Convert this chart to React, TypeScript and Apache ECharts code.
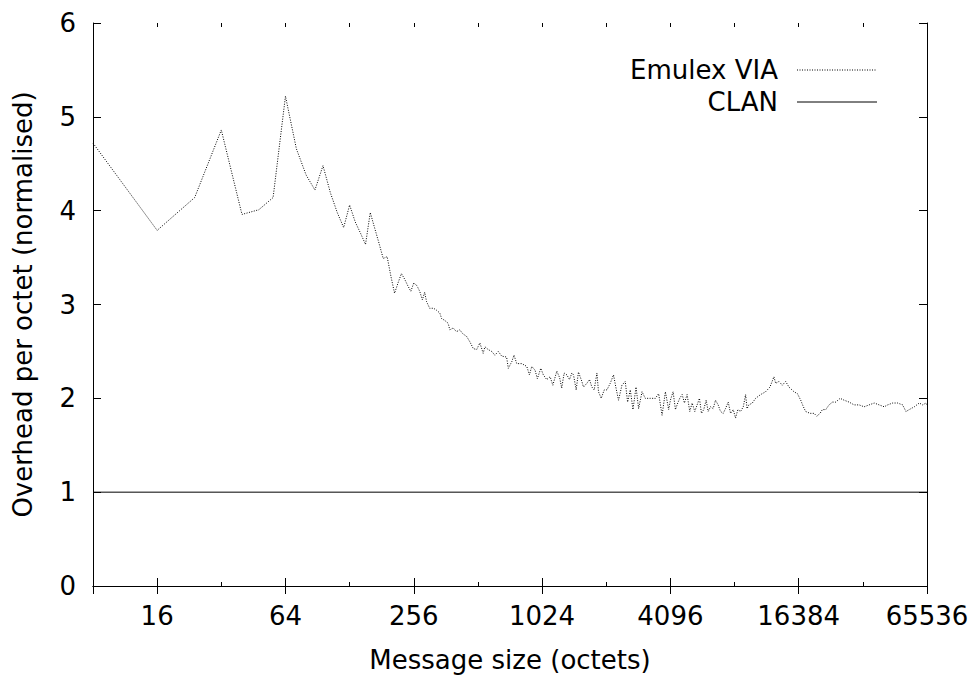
import React, { useEffect, useRef } from "react";
import * as echarts from "echarts";

// Message sizes (octets) and Emulex VIA overhead per octet, normalised to CLAN
const sizes = [
  8, 16, 24, 32, 40, 48, 56, 64, 72, 80, 88, 96, 104, 112, 120, 128, 136, 144, 152, 160,
  168, 176, 184, 192, 200, 208, 216, 224, 232, 240, 248, 256, 265, 273, 281, 288, 294, 304,
  317, 327, 339, 346, 358, 371, 378, 392, 406, 421, 434, 453, 470, 487, 505, 523, 542, 552,
  572, 594, 615, 638, 662, 698, 711, 738, 756, 779, 822, 868, 893, 916, 949, 973, 1010, 1038,
  1077, 1117, 1150, 1201, 1238, 1266, 1300, 1338, 1377, 1413, 1438, 1480, 1517, 1574, 1601,
  1661, 1709, 1754, 1798, 1852, 1884, 1940, 2004, 2064, 2138, 2216, 2276, 2339, 2427, 2515,
  2580, 2656, 2734, 2826, 2906, 3015, 3123, 3298, 3482, 3608, 3744, 3881, 4020, 4096, 4218,
  4326, 4435, 4531, 4652, 4768, 4907, 5050, 5181, 5330, 5468, 5607, 5730, 5873, 6029, 6161,
  6317, 6503, 6668, 6864, 7039, 7247, 7429, 7652, 7847, 8078, 8282, 8490, 8742, 9005, 9232,
  9380, 9567, 9926, 10287, 10855, 11457, 12010, 12537, 12775, 13233, 13730, 14231, 14749,
  15575, 16155, 16744, 17236, 17662, 18530, 19350, 19907, 20644, 21168, 21955, 22741, 23609,
  24461, 25625, 26771, 28246, 29819, 31474, 33227, 35062, 37061, 39092, 41288, 42828, 45220,
  47710, 50364, 52199, 54100, 57147, 60293, 62554, 64815, 65536,
];

const emulexOverhead = [
  4.72, 3.79, 4.14, 4.86, 3.96, 4.01, 4.14, 5.22, 4.66, 4.38, 4.22, 4.48, 4.19, 3.98, 3.82, 4.06, 3.88, 3.76, 3.64, 3.98,
  3.81, 3.65, 3.49, 3.51, 3.30, 3.12, 3.23, 3.33, 3.27, 3.20, 3.14, 3.23, 3.20, 3.14, 3.05, 3.13, 3.03, 2.96,
  2.96, 2.94, 2.91, 2.85, 2.83, 2.80, 2.73, 2.75, 2.71, 2.73, 2.69, 2.66, 2.60, 2.53, 2.52, 2.59, 2.48, 2.55,
  2.52, 2.50, 2.46, 2.50, 2.45, 2.44, 2.32, 2.39, 2.46, 2.37, 2.37, 2.34, 2.25, 2.34, 2.30, 2.21, 2.32, 2.25,
  2.20, 2.23, 2.14, 2.29, 2.22, 2.11, 2.27, 2.25, 2.20, 2.27, 2.25, 2.09, 2.28, 2.18, 2.12,
  2.16, 2.20, 2.12, 2.09, 2.27, 2.07, 2.00, 2.09, 2.09, 2.16, 2.25, 2.11, 1.98, 2.14, 2.18,
  1.96, 2.09, 1.88, 2.12, 1.89, 2.07, 2.00, 2.00, 2.00, 2.05, 1.82, 2.07, 1.88, 1.98, 2.07,
  1.88, 1.95, 2.00, 2.04, 1.95, 2.04, 1.86, 1.95, 1.86, 1.93, 2.00, 1.84, 1.88, 1.98, 1.86,
  1.91, 1.89, 1.98, 1.93, 1.86, 1.84, 1.89, 1.96, 1.84, 1.88, 1.79, 1.88, 1.86, 1.91, 2.04,
  1.89, 1.93, 1.95, 2.00, 2.04, 2.07, 2.12, 2.23, 2.16, 2.18, 2.14, 2.18, 2.12,
  2.07, 2.05, 1.98, 1.91, 1.86, 1.84, 1.84, 1.81, 1.84, 1.88, 1.88, 1.93, 1.96,
  1.96, 2.00, 1.98, 1.96, 1.93, 1.93, 1.91, 1.93, 1.95, 1.93, 1.91, 1.93, 1.95,
  1.95, 1.93, 1.86, 1.88, 1.91, 1.95, 1.93, 1.95, 1.93,
];

// CLAN is the reference, so its normalised overhead is 1 across the range
const clanSizes = [8, 65536];
const clanOverhead = [1, 1];

// Labelled sizes on the x axis (powers of four)
const xTickSizes = [16, 64, 256, 1024, 4096, 16384, 65536];
const yTicks = [0, 1, 2, 3, 4, 5, 6];

const FONT = "DejaVu Sans, Verdana, sans-serif";
const FS = 26;

export default function App() {
  const ref = useRef<HTMLDivElement>(null);

  useEffect(() => {
    if (!ref.current) return;
    const chart = echarts.init(ref.current, null, { renderer: "svg" });

    const log2 = (v: number) => Math.log2(v);
    const xMin = log2(sizes[0]);
    const xMax = log2(sizes[sizes.length - 1]);
    const labelFor = (v: number) => {
      const s = xTickSizes.find((t) => Math.abs(log2(t) - v) < 1e-6);
      return s === undefined ? "" : String(s);
    };

    const gridPos = { left: 93, right: 49, top: 23, bottom: 96 };
    const black = "#000";

    // Octave-of-four ticks carry the labels; octave ticks are drawn shorter on a twin grid
    const majorX = (position: "bottom" | "top", withLabels: boolean) => ({
      type: "value" as const,
      gridIndex: 0,
      position,
      min: xMin,
      max: xMax,
      splitNumber: 6,
      axisLine: { show: true, lineStyle: { color: black, width: 1 } },
      axisTick: { show: true, inside: true, length: 8, lineStyle: { color: black } },
      axisLabel: {
        show: withLabels,
        formatter: labelFor,
        color: black,
        fontSize: FS,
        fontFamily: FONT,
        margin: 17,
        showMinLabel: true,
        showMaxLabel: true,
      },
      splitLine: { show: false },
      name: withLabels ? "Message size (octets)" : "",
      nameLocation: "middle" as const,
      nameGap: 61,
      nameTextStyle: { color: black, fontSize: FS, fontFamily: FONT },
    });

    const minorX = (position: "bottom" | "top") => ({
      type: "value" as const,
      gridIndex: 1,
      position,
      min: xMin,
      max: xMax,
      interval: 1,
      axisLine: { show: false },
      axisTick: { show: true, inside: true, length: 4, lineStyle: { color: black } },
      axisLabel: { show: false },
      splitLine: { show: false },
    });

    const yAxisOf = (position: "left" | "right", withLabels: boolean, gridIndex: number) => ({
      type: "value" as const,
      gridIndex,
      position,
      min: yTicks[0],
      max: yTicks[yTicks.length - 1],
      interval: 1,
      axisLine: { show: gridIndex === 0, lineStyle: { color: black, width: 1 } },
      axisTick: { show: gridIndex === 0, inside: true, length: 8, lineStyle: { color: black } },
      axisLabel: {
        show: withLabels,
        color: black,
        fontSize: FS,
        fontFamily: FONT,
        margin: 17,
      },
      splitLine: { show: false },
      name: withLabels ? "Overhead per octet (normalised)" : "",
      nameLocation: "middle" as const,
      nameRotate: 90,
      nameGap: 57,
      nameTextStyle: { color: black, fontSize: FS, fontFamily: FONT },
    });

    const legendY = [70, 102];

    chart.setOption({
      animation: false,
      backgroundColor: "#fff",
      textStyle: { fontFamily: FONT },
      grid: [
        { ...gridPos, containLabel: false },
        { ...gridPos, containLabel: false },
      ],
      xAxis: [majorX("bottom", true), majorX("top", false), minorX("bottom"), minorX("top")],
      yAxis: [yAxisOf("left", true, 0), yAxisOf("right", false, 0), yAxisOf("left", false, 1)],
      series: [
        {
          name: "Emulex VIA",
          type: "line",
          xAxisIndex: 0,
          yAxisIndex: 0,
          data: sizes.map((s, i) => [log2(s), emulexOverhead[i]]),
          showSymbol: false,
          symbol: "none",
          lineStyle: { color: black, width: 1, type: [1, 1.5] },
        },
        {
          name: "CLAN",
          type: "line",
          xAxisIndex: 0,
          yAxisIndex: 0,
          data: clanSizes.map((s, i) => [log2(s), clanOverhead[i]]),
          showSymbol: false,
          symbol: "none",
          lineStyle: { color: black, width: 1 },
        },
      ],
      graphic: [
        {
          type: "text",
          x: 778,
          y: legendY[0],
          style: {
            text: "Emulex VIA",
            fill: black,
            fontSize: FS,
            fontFamily: FONT,
            align: "right",
            verticalAlign: "middle",
          },
        },
        {
          type: "line",
          shape: { x1: 797, y1: legendY[0], x2: 877, y2: legendY[0] },
          style: { stroke: black, lineWidth: 1, lineDash: [1, 1.5] },
        },
        {
          type: "text",
          x: 778,
          y: legendY[1],
          style: {
            text: "CLAN",
            fill: black,
            fontSize: FS,
            fontFamily: FONT,
            align: "right",
            verticalAlign: "middle",
          },
        },
        {
          type: "line",
          shape: { x1: 797, y1: legendY[1], x2: 877, y2: legendY[1] },
          style: { stroke: black, lineWidth: 1 },
        },
      ],
    });

    return () => chart.dispose();
  }, []);

  return (
    <div
      ref={ref}
      style={{ position: "absolute", left: 0, top: 0, width: 976, height: 682, background: "#fff" }}
    />
  );
}
